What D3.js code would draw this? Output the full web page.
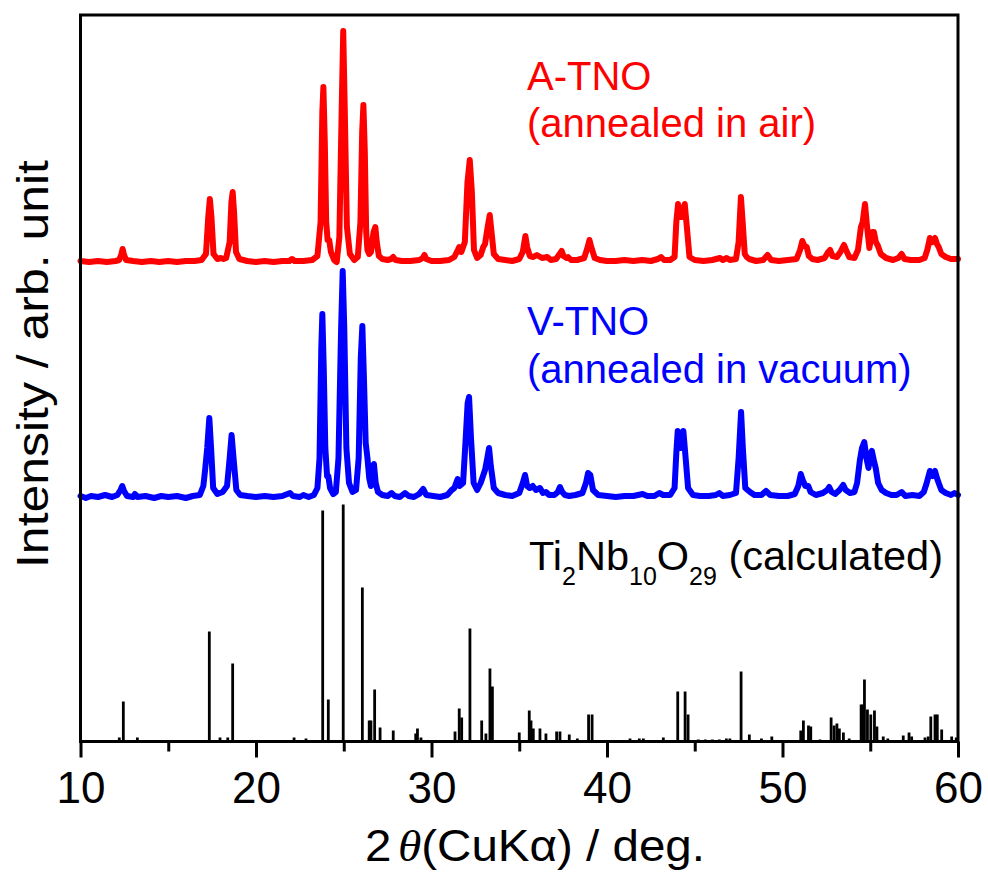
<!DOCTYPE html>
<html>
<head>
<meta charset="utf-8">
<script src="https://cdn.jsdelivr.net/npm/d3@7/dist/d3.min.js"></script>
<style>
  body { margin: 0; background: #fff; }
  text { font-family: "Liberation Sans", Arial, sans-serif; }
</style>
</head>
<body>
<svg id="chart" width="988" height="877"></svg>
<script>
// 2θ axis
const xDomain = [10, 60];
const majorTicks = [10, 20, 30, 40, 50, 60];
const minorTicks = [15, 25, 35, 45, 55];

// Vertical offsets of the stacked patterns (arb. unit)
const airOffset = 479.5;
const vacuumOffset = 243.5;

// A-TNO, annealed in air: [2θ, intensity above its baseline]
const airPattern = [
  [10.0,1],[10.5,0],[11.0,1],[11.5,0],[12.0,1],[12.2,2],[12.32,7],[12.4,13],[12.48,7],[12.6,2],
  [13.0,1],[13.5,0],[14.0,1],[14.5,0],[15.0,1],[15.5,0],[16.0,1],[16.5,1],[16.9,2],[17.15,8],
  [17.28,45],[17.37,63],[17.46,45],[17.58,8],[17.8,3],[18.0,4],[18.15,3],[18.3,4],[18.5,20],[18.6,60],
  [18.67,70],[18.75,50],[18.86,10],[19.05,3],[19.5,1],[20.0,0],[20.5,1],[21.0,0],[21.5,1],[21.9,1],
  [22.05,3],[22.2,1],[22.7,1],[23.2,2],[23.5,6],[23.68,40],[23.78,150],[23.84,175],[23.92,120],[24.0,40],
  [24.08,22],[24.17,22],[24.27,10],[24.45,2],[24.6,0],[24.75,25],[24.88,150],[24.97,231],[25.06,150],[25.18,35],
  [25.35,8],[25.6,2],[25.8,5],[25.95,40],[26.05,130],[26.12,157],[26.2,110],[26.28,30],[26.35,12],[26.45,8],
  [26.55,10],[26.7,30],[26.8,35],[26.88,20],[27.0,6],[27.2,3],[27.5,2],[27.7,3],[27.82,5],[27.95,2],
  [28.3,1],[28.8,1],[29.3,2],[29.5,4],[29.6,7],[29.7,3],[30.0,1],[30.5,1],[31.0,2],[31.3,5],
  [31.5,12],[31.58,15],[31.7,10],[31.9,20],[32.05,80],[32.18,102],[32.3,70],[32.42,12],[32.6,4],[32.8,7],
  [32.95,15],[33.05,18],[33.2,35],[33.32,47],[33.42,30],[33.55,8],[33.8,3],[34.2,2],[34.6,1],[35.0,3],
  [35.2,10],[35.35,26],[35.45,15],[35.6,6],[35.8,5],[36.0,7],[36.1,6],[36.3,4],[36.6,5],[36.8,2],
  [37.1,3],[37.3,8],[37.42,11],[37.52,6],[37.7,4],[37.78,5],[37.95,2],[38.3,2],[38.7,4],[38.9,15],
  [39.0,22],[39.1,15],[39.3,4],[39.6,2],[40.0,1],[40.5,1],[41.0,2],[41.5,1],[42.0,2],[42.5,1],
  [42.9,3],[43.08,5],[43.25,2],[43.6,2],[43.85,5],[43.95,40],[44.05,58],[44.2,45],[44.3,45],[44.43,58],
  [44.55,35],[44.7,5],[45.0,2],[45.5,1],[46.0,2],[46.44,4],[46.6,2],[46.82,4],[47.0,2],[47.35,3],
  [47.5,20],[47.63,65],[47.73,40],[47.85,8],[47.96,5],[48.1,3],[48.5,1],[48.9,2],[49.15,7],[49.35,2],
  [49.8,1],[50.3,2],[50.8,3],[51.0,12],[51.13,21],[51.25,16],[51.38,15],[51.5,6],[51.7,3],[52.0,2],
  [52.4,4],[52.6,10],[52.71,12],[52.85,6],[53.1,5],[53.3,10],[53.5,17],[53.62,12],[53.8,5],[54.1,4],
  [54.3,12],[54.47,35],[54.57,40],[54.7,58],[54.82,35],[54.95,14],[55.1,30],[55.21,30],[55.32,20],[55.44,16],
  [55.6,8],[55.9,4],[56.3,2],[56.6,4],[56.79,8],[56.95,3],[57.3,2],[57.8,2],[58.1,4],[58.25,12],
  [58.4,24],[58.55,20],[58.69,24],[58.8,18],[58.9,15],[59.05,8],[59.3,5],[59.6,3],[60.0,3]
];

// V-TNO, annealed in vacuum: [2θ, intensity above its baseline]
const vacuumPattern = [
  [10.0,2],[10.3,0],[10.6,2],[11.0,1],[11.4,3],[11.8,1],[12.1,3],[12.28,8],[12.38,12],[12.48,7],
  [12.65,2],[13.0,1],[13.1,4],[13.25,1],[13.7,2],[14.2,0],[14.6,2],[15.0,1],[15.5,2],[16.0,0],
  [16.4,2],[16.8,3],[17.0,12],[17.1,28],[17.22,50],[17.34,80],[17.44,50],[17.56,10],[17.8,4],[18.1,6],
  [18.35,12],[18.5,40],[18.61,63],[18.72,40],[18.88,8],[19.1,3],[19.5,2],[20.0,1],[20.5,2],[21.0,1],
  [21.5,2],[21.94,5],[22.1,2],[22.5,1],[22.7,3],[23.0,1],[23.3,3],[23.5,10],[23.62,40],[23.72,150],
  [23.78,184],[23.86,130],[23.95,50],[24.05,22],[24.12,22],[24.22,10],[24.4,4],[24.55,6],[24.7,40],[24.85,170],
  [24.94,227],[25.03,170],[25.15,50],[25.3,15],[25.5,6],[25.7,8],[25.85,40],[25.97,140],[26.06,172],[26.15,120],
  [26.25,55],[26.35,40],[26.45,20],[26.55,12],[26.62,30],[26.72,34],[26.82,15],[26.95,6],[27.2,3],[27.5,2],
  [27.73,5],[27.9,2],[28.2,1],[28.49,5],[28.7,2],[29.0,1],[29.3,4],[29.53,9],[29.7,3],[30.1,2],
  [30.5,1],[30.9,3],[31.15,8],[31.3,10],[31.49,19],[31.6,12],[31.8,15],[31.95,60],[32.06,95],[32.14,101],
  [32.25,60],[32.4,15],[32.6,8],[32.8,15],[33.05,28],[33.18,40],[33.28,50],[33.38,32],[33.55,10],[33.8,5],
  [34.2,3],[34.6,2],[35.0,5],[35.2,15],[35.33,23],[35.45,12],[35.6,10],[35.77,12],[35.95,8],[36.18,10],
  [36.35,5],[36.52,6],[36.7,3],[37.0,3],[37.2,6],[37.32,11],[37.45,6],[37.6,3],[37.85,2],[38.2,3],
  [38.6,5],[38.8,15],[38.92,25],[39.05,23],[39.2,8],[39.5,3],[40.0,2],[40.5,1],[41.0,2],[41.5,2],
  [42.03,4],[42.3,2],[42.7,2],[42.98,5],[43.2,3],[43.6,3],[43.85,10],[43.95,45],[44.03,67],[44.18,50],
  [44.28,50],[44.35,67],[44.48,40],[44.62,10],[44.9,3],[45.3,2],[45.8,2],[46.2,3],[46.4,5],[46.6,2],
  [47.0,3],[47.35,5],[47.5,40],[47.64,86],[47.74,50],[47.88,10],[48.15,6],[48.4,3],[48.8,3],[49.06,7],
  [49.3,3],[49.8,2],[50.3,2],[50.7,4],[50.9,12],[51.04,24],[51.15,18],[51.3,12],[51.47,12],[51.6,6],
  [51.9,3],[52.3,5],[52.55,8],[52.66,11],[52.8,6],[53.0,4],[53.25,8],[53.46,13],[53.6,8],[53.85,5],
  [54.1,6],[54.25,15],[54.41,38],[54.53,50],[54.66,56],[54.78,40],[54.9,30],[55.0,44],[55.09,47],[55.2,38],
  [55.31,30],[55.45,15],[55.65,8],[55.9,5],[56.2,3],[56.5,3],[56.79,6],[57.0,2],[57.4,3],[57.8,2],
  [58.05,6],[58.2,14],[58.4,27],[58.55,22],[58.69,27],[58.8,20],[58.9,15],[59.05,8],[59.3,5],[59.6,3],
  [59.8,5],[60.0,3]
];

// Ti2Nb10O29, calculated reflections: [2θ, relative intensity]
const calcSticks = [
  [12.21,4],[12.44,40],[13.24,4],[17.34,110],[17.95,4],[18.39,4],[18.67,78],[22.17,4],[22.85,3],[23.80,231],
  [24.12,42],[24.97,237],[26.06,154],[26.45,21],[26.55,21],[26.76,52],[27.07,14],[27.82,11],[29.10,8],[29.20,13],
  [29.40,4],[31.34,10],[31.58,33],[31.72,24],[32.19,113],[32.86,21],[33.10,8],[33.33,73],[33.47,55],[35.00,9],
  [35.57,31],[35.67,21],[35.80,13],[36.18,13],[36.52,8],[37.13,10],[37.32,10],[37.85,7],[38.31,3],[38.95,27],
  [39.15,27],[41.31,3],[41.84,3],[42.07,3],[43.21,4],[44.03,50],[44.45,50],[44.62,27],[45.20,2],[45.60,2],
  [46.00,2],[46.40,2],[46.80,3],[47.00,3],[47.64,70],[48.11,7],[48.80,3],[49.39,5],[51.04,11],[51.19,21],
  [51.48,16],[51.61,15],[52.14,2],[52.77,24],[52.94,16],[53.10,18],[53.24,13],[53.47,9],[53.80,3],[54.48,37],
  [54.58,37],[54.67,62],[54.84,32],[55.03,27],[55.24,31],[55.38,15],[55.74,5],[56.00,3],[56.88,6],[57.21,9],
  [57.36,5],[58.12,4],[58.30,5],[58.45,25],[58.69,27],[58.82,27],[59.07,12],[59.64,5],[59.90,4]
];

const svg = d3.select("#chart");
const plotLeft = 80.5, plotRight = 958, plotTop = 15, plotBottom = 741.5;

const x = d3.scaleLinear().domain(xDomain).range([plotLeft, plotRight]);
const y = d3.scaleLinear().domain([0, plotBottom - plotTop]).range([plotBottom, plotTop]);

// calculated stick pattern
svg.append("g")
  .selectAll("line")
  .data(calcSticks)
  .join("line")
  .attr("x1", d => x(d[0])).attr("x2", d => x(d[0]))
  .attr("y1", y(0)).attr("y2", d => y(d[1]))
  .attr("stroke", "#000").attr("stroke-width", 2.8);

// measured patterns
function patternLine(offset) {
  return d3.line().x(d => x(d[0])).y(d => y(d[1] + offset));
}
svg.append("path")
  .datum(vacuumPattern)
  .attr("d", patternLine(vacuumOffset))
  .attr("fill", "none").attr("stroke", "#0000ff")
  .attr("stroke-width", 6).attr("stroke-linejoin", "round").attr("stroke-linecap", "round");
svg.append("path")
  .datum(airPattern)
  .attr("d", patternLine(airOffset))
  .attr("fill", "none").attr("stroke", "#ff0000")
  .attr("stroke-width", 6).attr("stroke-linejoin", "round").attr("stroke-linecap", "round");

// frame
svg.append("rect")
  .attr("x", plotLeft).attr("y", plotTop)
  .attr("width", plotRight - plotLeft).attr("height", plotBottom - plotTop)
  .attr("fill", "none").attr("stroke", "#000").attr("stroke-width", 3);

// bottom axis
const xAxis = d3.axisBottom(x).tickValues(majorTicks).tickSize(16).tickSizeOuter(0).tickPadding(14);
const gx = svg.append("g").attr("transform", `translate(0,${plotBottom})`).call(xAxis);
gx.select(".domain").remove();
gx.selectAll(".tick line").attr("stroke-width", 3);
gx.selectAll(".tick text")
  .attr("font-family", "'Liberation Sans', Arial, sans-serif")
  .attr("font-size", 44).attr("fill", "#000");
const xMinor = d3.axisBottom(x).tickValues(minorTicks).tickSize(10).tickFormat("");
const gm = svg.append("g").attr("transform", `translate(0,${plotBottom})`).call(xMinor);
gm.select(".domain").remove();
gm.selectAll(".tick line").attr("stroke-width", 3);

// axis titles
const xt = svg.append("text")
  .attr("x", 365).attr("y", 861)
  .attr("font-size", 44).attr("fill", "#000")
  .attr("textLength", 340).attr("lengthAdjust", "spacingAndGlyphs");
xt.append("tspan").text("2");
xt.append("tspan").attr("dx", 6).attr("font-family", "'Liberation Serif', serif").attr("font-style", "italic").text("θ");
xt.append("tspan").text("(CuKα) / deg.");

svg.append("text")
  .attr("transform", "translate(48,364) rotate(-90)")
  .attr("text-anchor", "middle").attr("font-size", 44).attr("fill", "#000")
  .attr("textLength", 408).attr("lengthAdjust", "spacingAndGlyphs")
  .text("Intensity / arb. unit");

// pattern labels
function label(lines, x0, ys, color) {
  lines.forEach((t, i) => {
    svg.append("text").attr("x", x0).attr("y", ys[i])
      .attr("font-size", 40).attr("fill", color).text(t);
  });
}
label(["A-TNO", "(annealed in air)"], 527, [90, 137], "#ff0000");
label(["V-TNO", "(annealed in vacuum)"], 527, [335, 383], "#0000ff");

const calc = svg.append("text").attr("x", 529).attr("y", 570).attr("font-size", 41.5).attr("fill", "#000");
const parts = [["Ti", false], ["2", true], ["Nb", false], ["10", true], ["O", false], ["29", true], [" (calculated)", false]];
let sub = false;
parts.forEach(([t, s]) => {
  const ts = calc.append("tspan").text(t);
  if (s && !sub) { ts.attr("dy", 15).attr("font-size", 25); sub = true; }
  else if (s) { ts.attr("font-size", 25); }
  else if (!s && sub) { ts.attr("dy", -15); sub = false; }
});
</script>
</body>
</html>
